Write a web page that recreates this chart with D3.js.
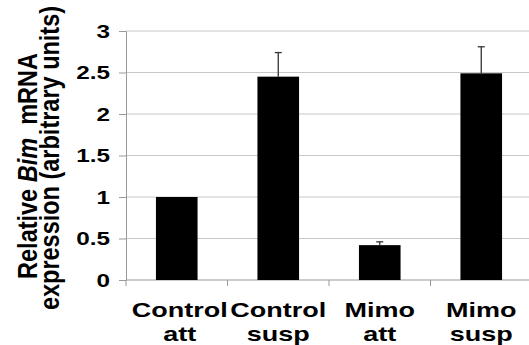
<!DOCTYPE html>
<html>
<head>
<meta charset="utf-8">
<script src="https://cdn.jsdelivr.net/npm/d3@7"></script>
<style>
  body { margin: 0; background: #fff; }
  text { font-family: "Liberation Sans", Arial, sans-serif; font-weight: bold; fill: #000; }
</style>
</head>
<body>
<svg id="chart" width="529" height="345"></svg>
<script>
// data
const categories = ['Control att', 'Control susp', 'Mimo att', 'Mimo susp']
const values = [1.0, 2.45, 0.42, 2.49]
const errors = [0, 0.29, 0.04, 0.32]
const yTicks = [0, 0.5, 1, 1.5, 2, 2.5, 3]

const svg = d3.select('#chart')
const margin = { top: 31, left: 126, bottom: 65, right: -3 }
const width = 529 - margin.left - margin.right
const height = 345 - margin.top - margin.bottom
const stretch = 1.35 // tick/category text in the picture is widened

const g = svg.append('g').attr('transform', `translate(${margin.left},${margin.top})`)

const x = d3.scaleBand().domain(categories).range([0, width]).padding(0)
const y = d3.scaleLinear().domain([0, 3]).range([height, 0])

// grid
g.selectAll('line.grid')
  .data(yTicks.filter(d => d > 0))
  .enter().append('line')
  .attr('class', 'grid')
  .attr('x1', 0).attr('x2', width)
  .attr('y1', d => y(d)).attr('y2', d => y(d))
  .attr('stroke', '#c8c8c8').attr('stroke-width', 1)

// y axis
const yAxis = d3.axisLeft(y).tickValues(yTicks).tickSize(7).tickFormat(d => d)
const ya = g.append('g').call(yAxis)
ya.select('.domain').attr('stroke', '#999')
ya.selectAll('.tick line').attr('stroke', '#999')
ya.selectAll('.tick text').remove()
ya.selectAll('.tick').append('text')
  .attr('transform', `translate(-16,0) scale(${stretch},1)`)
  .attr('text-anchor', 'end')
  .attr('dy', '0.36em')
  .style('font-size', '18px')
  .text(d => d)

// x axis line + ticks at band edges
g.append('line')
  .attr('x1', 0).attr('x2', width)
  .attr('y1', height).attr('y2', height)
  .attr('stroke', '#999')
g.selectAll('line.xtick')
  .data(categories)
  .enter().append('line')
  .attr('x1', d => x(d)).attr('x2', d => x(d))
  .attr('y1', height).attr('y2', height + 6)
  .attr('stroke', '#999')

// bars
const barW = x.bandwidth() * 0.41
g.selectAll('rect.bar')
  .data(values)
  .enter().append('rect')
  .attr('x', (d, i) => x(categories[i]) + x.bandwidth() / 2 - barW / 2)
  .attr('y', d => y(d))
  .attr('width', barW)
  .attr('height', d => height - y(d))
  .attr('fill', '#000')

// error bars (upper only)
const errG = g.selectAll('g.err')
  .data(values.map((v, i) => ({ v, e: errors[i], c: categories[i] })).filter(d => d.e > 0))
  .enter().append('g')
errG.append('line')
  .attr('x1', d => x(d.c) + x.bandwidth() / 2).attr('x2', d => x(d.c) + x.bandwidth() / 2)
  .attr('y1', d => y(d.v)).attr('y2', d => y(d.v + d.e))
  .attr('stroke', '#333').attr('stroke-width', 1.3)
errG.append('line')
  .attr('x1', d => x(d.c) + x.bandwidth() / 2 - 3.5).attr('x2', d => x(d.c) + x.bandwidth() / 2 + 3.5)
  .attr('y1', d => y(d.v + d.e)).attr('y2', d => y(d.v + d.e))
  .attr('stroke', '#333').attr('stroke-width', 1.3)

// category labels
const lab = g.selectAll('g.lab')
  .data(categories)
  .enter().append('g')
  .attr('transform', (d, i) => `translate(${x(d) + x.bandwidth() / 2 + (i == 0 ? 3 : 0)},${height + 37}) scale(${stretch},1)`)
lab.append('text')
  .attr('text-anchor', 'middle')
  .style('font-size', '20px')
  .text(d => d.split(' ')[0])
lab.append('text')
  .attr('text-anchor', 'middle')
  .attr('y', 24)
  .style('font-size', '20px')
  .text(d => d.split(' ')[1])

// y title (two lines)
const t1 = svg.append('text')
  .attr('transform', 'translate(37,166) scale(1.15,1) rotate(-90)')
  .attr('text-anchor', 'middle')
  .style('font-size', '23.5px')
t1.append('tspan').text('Relative ')
t1.append('tspan').style('font-style', 'italic').text('Bim')
t1.append('tspan').text('\u00a0 mRNA')

svg.append('text')
  .attr('transform', 'translate(59,158) scale(1.15,1) rotate(-90)')
  .attr('text-anchor', 'middle')
  .style('font-size', '23.5px')
  .text('expression (arbitrary units)')
</script>
</body>
</html>
